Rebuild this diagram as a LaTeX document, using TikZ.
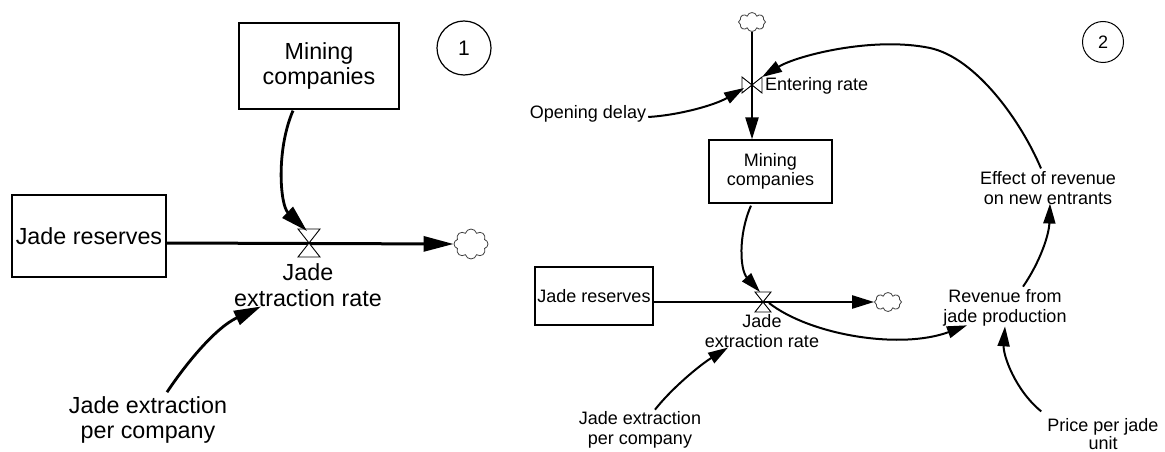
\documentclass[tikz,border=0pt]{standalone}
\usepackage{fontspec}
\setmainfont{Liberation Sans}
\usetikzlibrary{arrows.meta,shapes.symbols,calc}

\begin{document}
\begin{tikzpicture}[x=1pt,y=-1pt,
  stock/.style={draw, line width=1.3pt, rectangle, inner sep=0pt, align=center},
  bigtxt/.style={font=\fontsize{23.3}{25.5}\selectfont, align=center, inner sep=0pt},
  smalltxt/.style={font=\fontsize{18}{19.5}\selectfont, align=center, inner sep=0pt},
  flowA/.style={line width=3pt, -{Triangle[length=30pt,width=15pt]}},
  linkA/.style={line width=2.8pt, -{Triangle[length=27pt,width=15pt]}},
  flowB/.style={line width=2.4pt, -{Triangle[length=22pt,width=13pt]}},
  linkB/.style={line width=2pt, -{Triangle[length=20pt,width=12pt]}},
  valve/.style={draw, fill=white, line width=0.9pt, line join=miter},
  sink/.style={cloud, cloud puffs=8, cloud ignores aspect, draw=black!75, line width=0.8pt, inner sep=0pt},
  tag/.style={draw, circle, inner sep=0pt}
]
\useasboundingbox (0,0) rectangle (1165,452);

% ---------- model 1 ----------
\node[stock, bigtxt, minimum width=160pt, minimum height=86pt] (mc1) at (319,66) {Mining\\companies};
\node[stock, bigtxt, minimum width=154pt, minimum height=82pt] (jr1) at (89,236) {Jade reserves};
\node[tag, minimum size=54pt, line width=1.2pt, font=\fontsize{21}{21}\selectfont] (n1) at (464,48) {1};
\coordinate (v1) at (309,243);
\node[sink, minimum width=34pt, minimum height=30pt] (cl1) at (471,244) {};
\node[bigtxt] (rate1) at (308,285) {Jade\\extraction rate};
\node[bigtxt] (jepc1) at (148,420) {Jade extraction\\per company};

\draw[flowA] (jr1.east |- v1) -- (cl1.west);
\draw[valve, shift={(v1)}] (-11,-14) -- (11,-14) -- (0,0) -- cycle
                           (-11,14) -- (11,14) -- (0,0) -- cycle;
\draw[linkA] ($(mc1.south)+(-26,1)$) .. controls (276,150) and (280,205) .. ($(v1)+(-2,-12)$);
\draw[linkA] ($(jepc1.north)+(19,-4)$) .. controls (185,365) and (215,328) .. ($(rate1.south west)+(27,0)$);

% ---------- model 2 ----------
\node[sink, minimum width=27pt, minimum height=19pt] (cl2) at (752,22) {};
\coordinate (v2) at (752,85);
\node[stock, smalltxt, minimum width=123pt, minimum height=63pt] (mc2) at (770.5,171.5) {Mining\\companies};
\node[smalltxt, anchor=west] (er) at (765,86) {Entering rate};
\node[smalltxt] (od) at (588,114) {Opening delay};
\node[stock, smalltxt, minimum width=118pt, minimum height=58pt] (jr2) at (594,296) {Jade reserves};
\coordinate (v3) at (763,302);
\node[sink, minimum width=27pt, minimum height=19pt] (cl3) at (888,302) {};
\node[smalltxt] (rate2) at (762,331) {Jade\\extraction rate};
\node[smalltxt] (rev) at (1005,308) {Revenue from\\jade production};
\node[smalltxt] (eff) at (1048,188) {Effect of revenue\\on new entrants};
\node[smalltxt, font=\fontsize{18}{17.5}\selectfont] (price) at (1103,434) {Price per jade\\unit};
\node[smalltxt] (jepc2) at (640,430) {Jade extraction\\per company};
\node[tag, minimum size=41pt, line width=1pt, font=\fontsize{18}{18}\selectfont] (n2) at (1103,42) {2};

\draw[flowB] (cl2.south) -- (v2 |- mc2.north);
\draw[flowB] (jr2.east |- v3) -- (cl3.west);
\draw[valve, shift={(v2)}] (-10,-8) -- (-10,8) -- (0,0) -- cycle
                           (10,-8) -- (10,8) -- (0,0) -- cycle;
\draw[valve, shift={(v3)}] (-8,-10) -- (8,-10) -- (0,0) -- cycle
                           (-8,10) -- (8,10) -- (0,0) -- cycle;

\coordinate (fbtop) at (930,48);
\draw[linkB] ($(od.east)+(2,3)$) .. controls (680,115) and (715,105) .. ($(v2)+(-8,3)$);
\draw[linkB] ($(eff.north)+(-7,-3)$) .. controls (1021,121) and (976,58) .. (fbtop)
             .. controls (872,36) and (796,56) .. ($(v2)+(10,-8)$);
\draw[linkB] ($(mc2.south)+(-19.5,2)$) .. controls (738,235) and (740,270) .. ($(v3)+(-3,-10)$);
\draw[linkB] ($(v3)+(6,1)$) .. controls (810,335) and (900,350) .. ($(rev.south)+(-38,-1)$);
\draw[linkB] ($(rev.north)+(18,-3)$) .. controls (1040,262) and (1049,235) .. ($(eff.south)+(2,-1)$);
\draw[linkB] ($(price.north west)+(-6,-7)$) .. controls (1015,390) and (1003,355) .. (rev.south);
\draw[linkB] ($(jepc2.north)+(15,-2)$) .. controls (672,388) and (700,365) .. ($(rate2.south)+(-34,0)$);
\end{tikzpicture}
\end{document}
